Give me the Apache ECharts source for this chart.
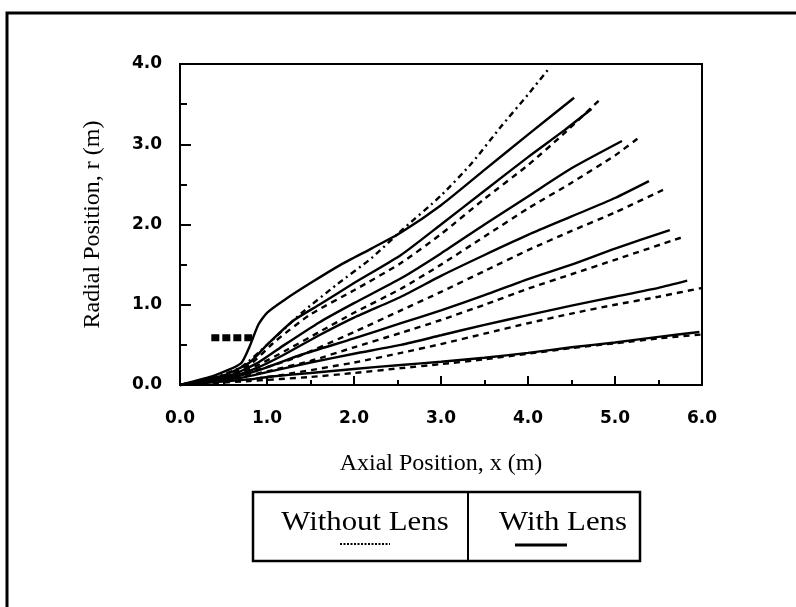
<!DOCTYPE html>
<html>
<head>
<meta charset="utf-8">
<script src="https://cdn.jsdelivr.net/npm/echarts@6/dist/echarts.min.js"></script>
<style>html,body{margin:0;padding:0;background:#fff;}#c{width:796px;height:607px;}</style>
</head>
<body>
<div id="c"></div>
<script>
// With Lens (solid) trajectories [x (m), r (m)]
var lens1 = [[0,0],[0.4,0.12],[0.7,0.27],[0.8,0.48],[0.9,0.75],[1.0,0.9],[1.2,1.06],[1.5,1.27],[1.85,1.5],[2.2,1.7],[2.54,1.9],[3.0,2.24],[3.5,2.68],[4.0,3.12],[4.53,3.58]];
var lens2 = [[0,0],[0.5,0.12],[0.8,0.28],[1.0,0.5],[1.3,0.8],[1.6,1.0],[2.0,1.27],[2.54,1.62],[3.0,2.0],[3.5,2.42],[4.0,2.84],[4.4,3.16],[4.73,3.44]];
var lens3 = [[0,0],[0.6,0.13],[0.9,0.28],[1.2,0.5],[1.6,0.78],[2.0,1.02],[2.54,1.33],[3.0,1.64],[3.5,2.0],[4.0,2.35],[4.5,2.7],[5.08,3.04]];
var lens4 = [[0,0],[0.6,0.11],[0.9,0.22],[1.2,0.38],[1.6,0.62],[2.0,0.84],[2.54,1.1],[3.0,1.36],[3.5,1.62],[4.0,1.87],[4.5,2.1],[5.0,2.33],[5.39,2.54]];
var lens5 = [[0,0],[0.7,0.12],[1.0,0.22],[1.4,0.38],[2.0,0.58],[2.54,0.77],[3.0,0.93],[3.5,1.12],[4.0,1.32],[4.5,1.5],[5.0,1.7],[5.63,1.93]];
var lens6 = [[0,0],[0.7,0.09],[1.0,0.16],[1.5,0.28],[2.0,0.39],[2.54,0.5],[3.0,0.62],[3.5,0.75],[4.0,0.87],[4.5,0.99],[5.0,1.1],[5.5,1.21],[5.83,1.3]];
var lens7 = [[0,0],[0.8,0.07],[1.0,0.1],[1.5,0.15],[2.0,0.2],[2.54,0.25],[3.0,0.29],[3.5,0.34],[4.0,0.4],[4.5,0.47],[5.0,0.53],[5.5,0.6],[5.97,0.66]];

// Without Lens (dashed) trajectories
var noLens1 = [[0,0],[0.4,0.1],[0.7,0.22],[1.0,0.5],[1.4,0.9],[1.8,1.25],[2.2,1.58],[2.54,1.92],[3.0,2.36],[3.35,2.76],[3.69,3.22],[4.0,3.62],[4.23,3.93]];
var noLens2 = [[0,0],[0.5,0.11],[0.8,0.25],[1.1,0.55],[1.5,0.88],[2.0,1.18],[2.54,1.52],[3.0,1.88],[3.5,2.32],[4.0,2.74],[4.4,3.12],[4.83,3.56]];
var noLens3 = [[0,0],[0.6,0.12],[0.9,0.25],[1.2,0.42],[1.6,0.66],[2.0,0.9],[2.54,1.2],[3.0,1.5],[3.5,1.85],[4.0,2.2],[4.5,2.52],[5.0,2.86],[5.27,3.08]];
var noLens4 = [[0,0],[0.6,0.1],[0.9,0.19],[1.3,0.33],[2.0,0.66],[2.54,0.93],[3.0,1.16],[3.5,1.42],[4.0,1.68],[4.5,1.92],[5.0,2.15],[5.57,2.44]];
var noLens5 = [[0,0],[0.7,0.1],[1.0,0.17],[1.5,0.3],[2.0,0.47],[2.54,0.65],[3.0,0.81],[3.5,1.0],[4.0,1.2],[4.5,1.38],[5.0,1.56],[5.77,1.84]];
var noLens6 = [[0,0],[0.8,0.07],[1.2,0.13],[2.0,0.28],[2.54,0.4],[3.0,0.51],[3.5,0.64],[4.0,0.77],[4.5,0.89],[5.0,1.0],[5.5,1.1],[6.0,1.21]];
var noLens7 = [[0,0],[0.8,0.05],[1.5,0.1],[2.0,0.15],[2.54,0.21],[3.0,0.26],[3.5,0.32],[4.0,0.39],[4.5,0.46],[5.0,0.52],[5.5,0.58],[6.0,0.63]];

// Lens marker
var lensMarker = [[0.36,0.59],[0.83,0.59]];

var xTicks = ['0.0','1.0','2.0','3.0','4.0','5.0','6.0'];
var yTicks = ['0.0','1.0','2.0','3.0','4.0'];

var chart = echarts.init(document.getElementById('c'), null, {renderer:'canvas'});
var lensList = [lens1,lens2,lens3,lens4,lens5,lens6,lens7];
var noLensList = [noLens1,noLens2,noLens3,noLens4,noLens5,noLens6,noLens7];
var series = [];
lensList.forEach(function(d,i){
  series.push({name:'With Lens', type:'line', data:d, showSymbol:false, smooth:0.2, silent:true,
    lineStyle:{color:'#000', width:2.4, type:'solid'}});
});
noLensList.forEach(function(d,i){
  series.push({name:'Without Lens', type:'line', data:d, showSymbol:false, smooth:0.2, silent:true,
    lineStyle:{color:'#000', width:2.4, type: i===0 ? [6,4,2,4] : [6,5]}});
});
series.push({name:'Lens', type:'line', data:lensMarker, showSymbol:false, silent:true,
  lineStyle:{color:'#000', width:7, type:[8,3]}});

var tickFont = {fontFamily:'DejaVu Sans', fontWeight:'bold', fontSize:17, color:'#000'};
chart.setOption({
  animation:false,
  backgroundColor:'#fff',
  grid:{left:180, top:64, right:94, bottom:222, show:true, borderColor:'#000', borderWidth:2, backgroundColor:'transparent'},
  xAxis:{type:'value', min:0, max:6, interval:1,
    name:'Axial Position, x (m)', nameLocation:'middle', nameGap:67,
    nameTextStyle:{fontFamily:'Liberation Serif', fontSize:24, color:'#000'},
    axisLine:{show:true, lineStyle:{color:'#000', width:2}},
    axisTick:{show:true, inside:true, length:9, lineStyle:{color:'#000', width:2}},
    minorTick:{show:true, splitNumber:2, length:5, lineStyle:{color:'#000', width:2}},
    splitLine:{show:false},
    axisLabel:Object.assign({margin:25, formatter:function(v){return xTicks[Math.round(v)];}}, tickFont)
  },
  yAxis:{type:'value', min:0, max:4, interval:1,
    name:'Radial Position, r (m)', nameLocation:'middle', nameGap:75, nameRotate:90,
    nameTextStyle:{fontFamily:'Liberation Serif', fontSize:24, color:'#000'},
    axisLine:{show:true, lineStyle:{color:'#000', width:2}},
    axisTick:{show:true, inside:true, length:11, lineStyle:{color:'#000', width:2}},
    minorTick:{show:true, splitNumber:2, length:7, lineStyle:{color:'#000', width:2}},
    splitLine:{show:false},
    axisLabel:Object.assign({margin:18, formatter:function(v){return yTicks[Math.round(v)];}}, tickFont)
  },
  series:series,
  graphic:[
    {type:'polyline', shape:{points:[[7,607],[7,13],[796,13]]}, style:{stroke:'#000', lineWidth:3, fill:null}, silent:true},
    {type:'rect', shape:{x:253, y:492, width:387, height:69}, style:{stroke:'#000', lineWidth:2.5, fill:null}, silent:true},
    {type:'line', shape:{x1:468, y1:492, x2:468, y2:561}, style:{stroke:'#000', lineWidth:2}, silent:true},
    {type:'text', x:365, y:523, scaleX:1.1, style:{text:'Without Lens', font:'28px "Liberation Serif"', fill:'#000', textAlign:'center', textVerticalAlign:'middle'}, silent:true},
    {type:'line', shape:{x1:340, y1:544, x2:390, y2:544}, style:{stroke:'#000', lineWidth:2, lineDash:[2,1.5]}, silent:true},
    {type:'text', x:563, y:523, scaleX:1.1, style:{text:'With Lens', font:'28px "Liberation Serif"', fill:'#000', textAlign:'center', textVerticalAlign:'middle'}, silent:true},
    {type:'line', shape:{x1:515, y1:545, x2:567, y2:545}, style:{stroke:'#000', lineWidth:3}, silent:true}
  ]
});
</script>
</body>
</html>
